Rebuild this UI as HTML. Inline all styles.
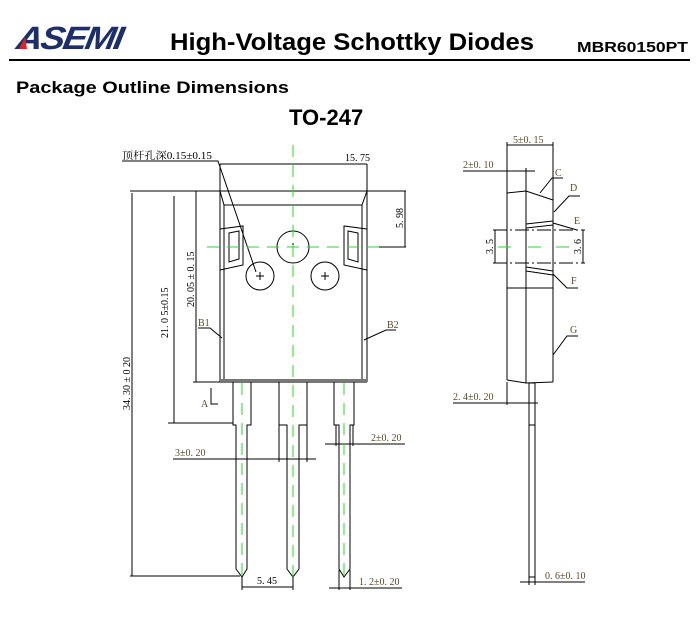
<!DOCTYPE html>
<html><head><meta charset="utf-8"><style>
body{margin:0;background:#fff;width:700px;height:622px;overflow:hidden}
svg{display:block}
.t{font-family:"Liberation Sans",sans-serif;font-weight:bold;fill:#000}
.d{font-family:"Liberation Serif","Noto Serif CJK SC",serif;font-size:10px;fill:#000}
.o{fill:#5a4a2a;font-family:"Liberation Serif",serif;font-size:10px}
line,polyline,polygon,path{stroke:#000;stroke-width:1;fill:none}
.g{stroke:#22dd22;stroke-dasharray:12,8}
.dd{stroke-dasharray:14,3,2,3}
</style></head><body>
<svg width="700" height="622" viewBox="0 0 700 622">
<!-- header -->
<text x="0" y="0" class="t" style="font-size:34px;font-style:italic;fill:#1c2f6b;letter-spacing:-2px" transform="translate(15,49) skewX(-10) scale(1,0.95)" textLength="105" lengthAdjust="spacingAndGlyphs">ASEMI</text>
<polygon points="19,49 25,37 27,49" style="fill:#d22;stroke:none"/>
<text x="170" y="50" class="t" style="font-size:24px" textLength="364" lengthAdjust="spacingAndGlyphs">High-Voltage Schottky Diodes</text>
<text x="577" y="52" class="t" style="font-size:15px" textLength="111" lengthAdjust="spacingAndGlyphs">MBR60150PT</text>
<line x1="9" y1="60" x2="690" y2="60" style="stroke-width:2"/>
<text x="16" y="93" class="t" style="font-size:17px" textLength="273" lengthAdjust="spacingAndGlyphs">Package Outline Dimensions</text>
<text x="289" y="125" class="t" style="font-size:22px">TO-247</text>

<!-- front view -->
<text x="122" y="159" class="d" textLength="90" lengthAdjust="spacingAndGlyphs">顶杆孔深0.15±0.15</text>
<polyline points="122,161 218,161 256,272"/>
<line x1="220" y1="164" x2="367" y2="164"/>
<text x="345" y="161" class="d">15. 75</text>
<line x1="220" y1="164" x2="220" y2="191"/><line x1="367" y1="164" x2="367" y2="191"/>
<line x1="130" y1="191" x2="406" y2="191"/>
<line x1="220" y1="191" x2="220" y2="382"/><line x1="367" y1="191" x2="367" y2="382"/>
<line x1="224" y1="205" x2="224" y2="382"/><line x1="362" y1="205" x2="362" y2="382"/>
<polyline points="220,191 224,205 362,205 367,191"/>
<polygon points="220,229 243,226 243,265 220,270"/>
<polygon points="229,233 239,231 239,259 229,262"/>
<polygon points="367,229 344,226 344,265 367,270"/>
<polygon points="358,233 348,231 348,259 358,262"/>
<circle cx="293" cy="247" r="16" style="stroke:#000;fill:none"/>
<circle cx="260" cy="276" r="14" style="stroke:#000;fill:none"/>
<circle cx="325" cy="276" r="14" style="stroke:#000;fill:none"/>
<path d="M289,247h8M293,243v8M256,276h8M260,272v8M321,276h8M325,272v8"/>
<line x1="367" y1="247" x2="406" y2="247"/>
<line x1="405" y1="191" x2="405" y2="247"/>
<text transform="translate(403,228) rotate(-90)" class="d">5. 98</text>
<rect x="220" y="379" width="147" height="4" style="fill:#777;stroke:none"/>
<line x1="193" y1="382" x2="220" y2="382"/>
<line x1="196" y1="191" x2="196" y2="382"/>
<text transform="translate(194,307) rotate(-90)" class="d">20. 05 ± 0. 15</text>
<line x1="174" y1="196" x2="174" y2="423"/>
<line x1="168" y1="423" x2="233" y2="423"/>
<text transform="translate(168,338) rotate(-90)" class="d">21. 0 5±0.15</text>
<line x1="132" y1="193" x2="132" y2="576"/>
<text transform="translate(130,410) rotate(-90)" class="d">34. 30 ± 0 20</text>
<text x="198" y="326" class="o">B1</text><polyline points="198,328 210,328 222,338"/>
<text x="387" y="328" class="o">B2</text><polyline points="396,330 386,330 364,340"/>
<text x="201" y="407" class="o">A</text><polyline points="211,388 211,404 218,404"/>
<!-- leads -->
<polyline points="233,382 233,425 236,425 236,569 242,577 247,569 247,425 251,425 251,382"/>
<polyline points="279,382 279,462"/><polyline points="307,382 307,462"/>
<polyline points="279,425 287,425 287,569 293,577 299,569 299,425 307,425"/>
<polyline points="334,382 334,425 339,425 339,569 344,577 350,569 350,425 354,425 354,382"/>
<line x1="336" y1="425" x2="336" y2="446"/><line x1="353" y1="425" x2="353" y2="446"/>
<line x1="173" y1="459" x2="316" y2="459"/><text x="175" y="456" class="o">3±0. 20</text>
<line x1="325" y1="444" x2="405" y2="444"/><text x="371" y="441" class="o">2±0. 20</text>
<line x1="130" y1="576" x2="240" y2="576"/>
<line x1="242" y1="577" x2="242" y2="590"/><line x1="293" y1="577" x2="293" y2="590"/>
<line x1="242" y1="587" x2="293" y2="587"/><text x="257" y="584" class="d">5. 45</text>
<line x1="339" y1="570" x2="339" y2="590"/><line x1="350" y1="570" x2="350" y2="590"/>
<line x1="329" y1="588" x2="402" y2="588"/><text x="359" y="585" class="o">1. 2±0. 20</text>
<line class="g" x1="293" y1="145" x2="293" y2="580"/>
<line class="g" x1="207" y1="247" x2="382" y2="247"/>
<line class="g" x1="242" y1="383" x2="242" y2="576"/>
<line class="g" x1="344" y1="383" x2="344" y2="576"/>

<!-- side view -->
<line x1="507" y1="145" x2="553" y2="145"/><text x="513" y="143" class="o">5±0. 15</text>
<line x1="507" y1="142" x2="507" y2="193"/><line x1="553" y1="142" x2="553" y2="200"/>
<line x1="463" y1="171" x2="535" y2="171"/><text x="463" y="168" class="o">2±0. 10</text>
<line x1="526" y1="168" x2="526" y2="383"/>
<polyline points="507,193 526,191 553,200"/>
<line x1="507" y1="193" x2="507" y2="380"/><line x1="553" y1="200" x2="553" y2="382"/>
<polyline points="507,380 526,383 553,382"/>
<line x1="507" y1="288" x2="553" y2="288"/>
<line x1="526" y1="224" x2="553" y2="221"/><line x1="526" y1="228" x2="553" y2="225"/>
<line x1="526" y1="267" x2="553" y2="271"/><line x1="526" y1="271" x2="553" y2="275"/>
<line class="dd" x1="493" y1="230" x2="585" y2="230"/><line class="dd" x1="493" y1="263" x2="585" y2="263"/>
<line x1="495" y1="230" x2="495" y2="263"/><line x1="583" y1="230" x2="583" y2="263"/>
<text transform="translate(493,254) rotate(-90)" class="d">3. 5</text>
<text transform="translate(581,254) rotate(-90)" class="d">3. 6</text>
<line x1="498" y1="247" x2="511" y2="247" style="stroke:#22dd22"/>
<line x1="528" y1="247" x2="541" y2="247" style="stroke:#22dd22"/>
<line x1="556" y1="247" x2="569" y2="247" style="stroke:#22dd22"/>
<text x="555" y="176" class="o">C</text><polyline points="540,193 552,178 563,178"/>
<text x="570" y="191" class="o">D</text><polyline points="554,212 569,196 580,196"/>
<text x="574" y="224" class="o">E</text><line x1="553" y1="223" x2="577" y2="230"/>
<text x="571" y="284" class="o">F</text><polyline points="553,274 567,288 578,288"/>
<text x="570" y="333" class="o">G</text><polyline points="553,355 567,336 578,336"/>
<rect x="529" y="383" width="6" height="194" style="fill:none;stroke:#000"/>
<line x1="529" y1="425" x2="535" y2="425"/>
<line x1="453" y1="403" x2="538" y2="403"/><text x="453" y="400" class="o">2. 4±0. 20</text>
<line x1="507" y1="382" x2="507" y2="405"/>
<line x1="520" y1="582" x2="585" y2="582"/><text x="545" y="579" class="o">0. 6±0. 10</text>
<line x1="529" y1="577" x2="529" y2="585"/><line x1="535" y1="577" x2="535" y2="585"/>
</svg>
</body></html>
